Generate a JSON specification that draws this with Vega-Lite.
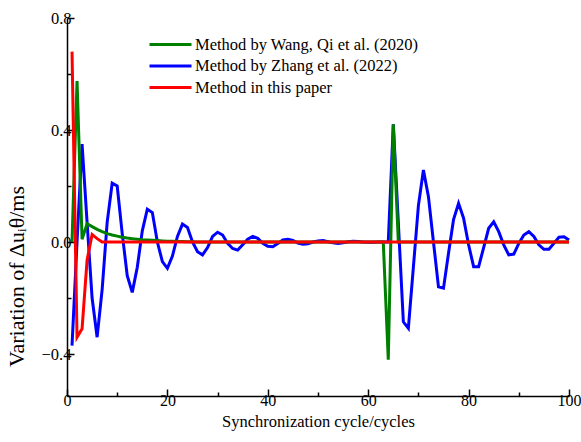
{
  "$schema": "https://vega.github.io/schema/vega-lite/v6.json",
  "width": 502,
  "height": 378,
  "autosize": {"type": "none"},
  "padding": {"left": 67, "top": 18, "right": 12, "bottom": 46},
  "background": "white",
  "config": {
    "view": {"stroke": null},
    "font": "Liberation Serif",
    "axis": {
      "grid": false,
      "domainColor": "black",
      "domainWidth": 1.5,
      "tickColor": "black",
      "tickWidth": 1.5,
      "labelColor": "black",
      "labelFont": "Liberation Serif",
      "labelFontSize": 16.5,
      "titleFont": "Liberation Serif",
      "titleFontSize": 16.5,
      "titleFontWeight": "normal",
      "titleColor": "black"
    },
    "legend": {
      "labelFont": "Liberation Serif",
      "labelFontSize": 16.5,
      "labelColor": "black",
      "labelLimit": 0
    }
  },
  "data": {
    "values": [
      {"c":1,"w":0,"z":-0.37,"r":0.68},
      {"c":2,"w":0.575,"z":0.0,"r":-0.34},
      {"c":3,"w":0.01,"z":0.35,"r":-0.31},
      {"c":4,"w":0.065,"z":0.07,"r":-0.065},
      {"c":5,"w":0.055,"z":-0.2,"r":0.027},
      {"c":6,"w":0.045,"z":-0.34,"r":0.012},
      {"c":7,"w":0.037,"z":-0.17,"r":0},
      {"c":8,"w":0.03,"z":0.07,"r":0},
      {"c":9,"w":0.025,"z":0.21,"r":0},
      {"c":10,"w":0.021,"z":0.2,"r":0},
      {"c":11,"w":0.017,"z":0.03,"r":0},
      {"c":12,"w":0.014,"z":-0.12,"r":0},
      {"c":13,"w":0.012,"z":-0.18,"r":0},
      {"c":14,"w":0.01,"z":-0.09,"r":0},
      {"c":15,"w":0.008,"z":0.04,"r":0},
      {"c":16,"w":0.007,"z":0.117,"r":0},
      {"c":17,"w":0.006,"z":0.105,"r":0},
      {"c":18,"w":0.005,"z":0.0,"r":0},
      {"c":19,"w":0.004,"z":-0.07,"r":0},
      {"c":20,"w":0.003,"z":-0.094,"r":0},
      {"c":21,"w":0.003,"z":-0.05,"r":0},
      {"c":22,"w":0.002,"z":0.02,"r":0},
      {"c":23,"w":0.002,"z":0.064,"r":0},
      {"c":24,"w":0.001,"z":0.052,"r":0},
      {"c":25,"w":0.001,"z":0.0,"r":0},
      {"c":26,"w":0,"z":-0.035,"r":0},
      {"c":27,"w":0,"z":-0.046,"r":0},
      {"c":28,"w":0,"z":-0.02,"r":0},
      {"c":29,"w":0,"z":0.02,"r":0},
      {"c":30,"w":0,"z":0.035,"r":0},
      {"c":31,"w":0,"z":0.025,"r":0},
      {"c":32,"w":0,"z":-0.005,"r":0},
      {"c":33,"w":0,"z":-0.023,"r":0},
      {"c":34,"w":0,"z":-0.029,"r":0},
      {"c":35,"w":0,"z":-0.01,"r":0},
      {"c":36,"w":0,"z":0.01,"r":0},
      {"c":37,"w":0,"z":0.02,"r":0},
      {"c":38,"w":0,"z":0.013,"r":0},
      {"c":39,"w":0,"z":-0.005,"r":0},
      {"c":40,"w":0,"z":-0.015,"r":0},
      {"c":41,"w":0,"z":-0.017,"r":0},
      {"c":42,"w":0,"z":-0.005,"r":0},
      {"c":43,"w":0,"z":0.007,"r":0},
      {"c":44,"w":0,"z":0.01,"r":0},
      {"c":45,"w":0,"z":0.006,"r":0},
      {"c":46,"w":0,"z":-0.004,"r":0},
      {"c":47,"w":0,"z":-0.008,"r":0},
      {"c":48,"w":0,"z":-0.006,"r":0},
      {"c":49,"w":0,"z":0.0,"r":0},
      {"c":50,"w":0,"z":0.004,"r":0},
      {"c":51,"w":0,"z":0.005,"r":0},
      {"c":52,"w":0,"z":0.001,"r":0},
      {"c":53,"w":0,"z":-0.003,"r":0},
      {"c":54,"w":0,"z":-0.005,"r":0},
      {"c":55,"w":0,"z":-0.003,"r":0},
      {"c":56,"w":0,"z":0.001,"r":0},
      {"c":57,"w":0,"z":0.003,"r":0},
      {"c":58,"w":0,"z":0.002,"r":0},
      {"c":59,"w":0,"z":0,"r":0},
      {"c":60,"w":0,"z":-0.001,"r":0},
      {"c":61,"w":0,"z":-0.001,"r":0},
      {"c":62,"w":0,"z":0,"r":0},
      {"c":63,"w":0,"z":0,"r":0},
      {"c":64,"w":-0.42,"z":0,"r":0},
      {"c":65,"w":0.42,"z":0.42,"r":0},
      {"c":66,"w":0,"z":0.07,"r":0},
      {"c":67,"w":0,"z":-0.285,"r":0},
      {"c":68,"w":0,"z":-0.308,"r":0},
      {"c":69,"w":0,"z":-0.09,"r":0},
      {"c":70,"w":0,"z":0.13,"r":0},
      {"c":71,"w":0,"z":0.257,"r":0},
      {"c":72,"w":0,"z":0.162,"r":0},
      {"c":73,"w":0,"z":0.0,"r":0},
      {"c":74,"w":0,"z":-0.16,"r":0},
      {"c":75,"w":0,"z":-0.165,"r":0},
      {"c":76,"w":0,"z":-0.04,"r":0},
      {"c":77,"w":0,"z":0.08,"r":0},
      {"c":78,"w":0,"z":0.138,"r":0},
      {"c":79,"w":0,"z":0.085,"r":0},
      {"c":80,"w":0,"z":-0.01,"r":0},
      {"c":81,"w":0,"z":-0.088,"r":0},
      {"c":82,"w":0,"z":-0.088,"r":0},
      {"c":83,"w":0,"z":-0.02,"r":0},
      {"c":84,"w":0,"z":0.049,"r":0},
      {"c":85,"w":0,"z":0.072,"r":0},
      {"c":86,"w":0,"z":0.037,"r":0},
      {"c":87,"w":0,"z":-0.01,"r":0},
      {"c":88,"w":0,"z":-0.046,"r":0},
      {"c":89,"w":0,"z":-0.043,"r":0},
      {"c":90,"w":0,"z":-0.005,"r":0},
      {"c":91,"w":0,"z":0.025,"r":0},
      {"c":92,"w":0,"z":0.037,"r":0},
      {"c":93,"w":0,"z":0.02,"r":0},
      {"c":94,"w":0,"z":-0.01,"r":0},
      {"c":95,"w":0,"z":-0.026,"r":0},
      {"c":96,"w":0,"z":-0.026,"r":0},
      {"c":97,"w":0,"z":-0.005,"r":0},
      {"c":98,"w":0,"z":0.017,"r":0},
      {"c":99,"w":0,"z":0.019,"r":0},
      {"c":100,"w":0,"z":0.007,"r":0}
    ]
  },
  "transform": [{"fold": ["w", "z", "r"], "as": ["method", "v"]}],
  "encoding": {
    "x": {
      "field": "c", "type": "quantitative",
      "scale": {"domain": [0, 100], "nice": false},
      "axis": {
        "title": "Synchronization cycle/cycles",
        "values": [0,10,20,30,40,50,60,70,80,90,100],
        "labelExpr": "datum.value % 20 == 0 ? datum.label : ''",
        "labelFontSize": 16,
        "tickSize": {"condition": {"test": "datum.value % 20 == 0", "value": -7}, "value": -4},
        "labelPadding": 3,
        "titlePadding": 5,
        "labelFlush": false
      }
    },
    "y": {
      "field": "v", "type": "quantitative",
      "scale": {"domain": [-0.55, 0.8], "nice": false, "zero": false},
      "axis": {
        "title": "Variation of Δuᵢθ/ms",
        "values": [-0.4,-0.2,0,0.2,0.4,0.6,0.8],
        "format": ".1f",
        "labelExpr": "round(datum.value*10) % 4 == 0 ? datum.label : ''",
        "tickSize": {"condition": {"test": "round(datum.value*10) % 4 == 0", "value": -7}, "value": -4},
        "labelPadding": 3,
        "titleFontSize": 22,
        "titleX": -44,
        "titleY": 258,
        "titleAlign": "center",
        "titleBaseline": "alphabetic",
        "titleAngle": -90,
        "labelFlush": false
      }
    },
    "color": {
      "field": "method", "type": "nominal",
      "scale": {"domain": ["w", "z", "r"], "range": ["#008000", "#0000ff", "#ff0000"]},
      "legend": {
        "title": null,
        "orient": "none",
        "legendX": 91.5,
        "legendY": 14.5,
        "symbolType": "M-2,0H2",
        "symbolSize": 441,
        "symbolStrokeWidth": 3,
        "labelOffset": 12.5,
        "rowPadding": 0.5,
        "labelExpr": "datum.label == 'w' ? 'Method by Wang, Qi et al. (2020)' : datum.label == 'z' ? 'Method by Zhang et al. (2022)' : 'Method in this paper'"
      }
    }
  },
  "layer": [
    {"transform": [{"filter": "datum.method == 'z'"}], "mark": {"type": "line", "strokeWidth": 3}},
    {"transform": [{"filter": "datum.method == 'w'"}], "mark": {"type": "line", "strokeWidth": 3}},
    {"transform": [{"filter": "datum.method == 'r'"}], "mark": {"type": "line", "strokeWidth": 3}}
  ]
}
